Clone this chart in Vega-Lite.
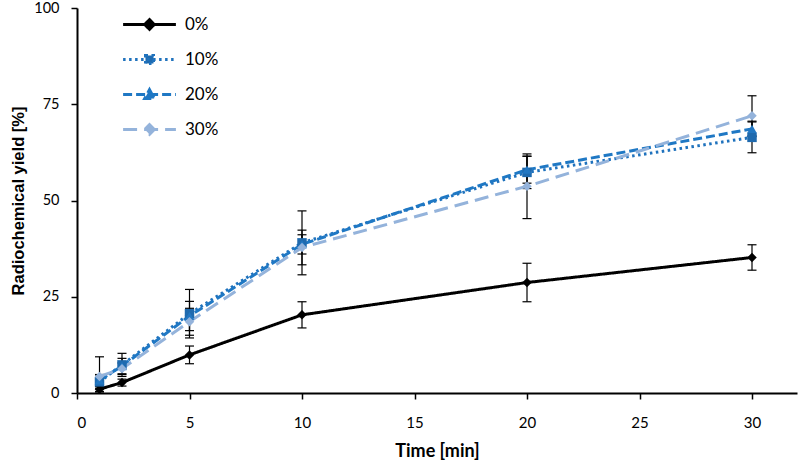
{
  "$schema": "https://vega.github.io/schema/vega-lite/v6.json",
  "width": 720,
  "height": 385,
  "autosize": {"type": "none"},
  "padding": {"left": 77, "top": 8, "right": 3, "bottom": 71},
  "background": "white",
  "config": {
    "view": {"stroke": null},
    "font": "Lato",
    "axis": {
      "grid": false,
      "domainColor": "black",
      "domainWidth": 2,
      "tickColor": "black",
      "tickWidth": 1.5,
      "tickSize": 6,
      "labelFont": "Lato",
      "labelFontSize": 15,
      "labelColor": "black",
      "labelPadding": 12,
      "titleFont": "Lato",
      "titleFontSize": 16,
      "titleFontWeight": "bold",
      "titleColor": "black"
    },
    "legend": {
      "labelFont": "Lato",
      "labelFontSize": 17,
      "labelColor": "black"
    }
  },
  "data": {
    "values": [
      {"series": "0%", "time": 1, "yield": 1.0, "lo": 0.4, "hi": 1.6},
      {"series": "0%", "time": 2, "yield": 2.7, "lo": 1.8, "hi": 3.6},
      {"series": "0%", "time": 5, "yield": 9.9, "lo": 7.6, "hi": 12.2},
      {"series": "0%", "time": 10, "yield": 20.3, "lo": 16.9, "hi": 23.7},
      {"series": "0%", "time": 20, "yield": 28.7, "lo": 23.7, "hi": 33.7},
      {"series": "0%", "time": 30, "yield": 35.2, "lo": 31.9, "hi": 38.5},
      {"series": "10%", "time": 1, "yield": 2.9, "lo": 1.1, "hi": 4.7},
      {"series": "10%", "time": 2, "yield": 7.3, "lo": 4.3, "hi": 10.3},
      {"series": "10%", "time": 5, "yield": 20.6, "lo": 14.3, "hi": 26.9},
      {"series": "10%", "time": 10, "yield": 39.0, "lo": 30.7, "hi": 47.3},
      {"series": "10%", "time": 20, "yield": 57.3, "lo": 53.1, "hi": 61.5},
      {"series": "10%", "time": 30, "yield": 66.4, "lo": 62.4, "hi": 70.4},
      {"series": "20%", "time": 1, "yield": 3.3, "lo": 1.8, "hi": 4.8},
      {"series": "20%", "time": 2, "yield": 7.0, "lo": 5.0, "hi": 9.0},
      {"series": "20%", "time": 5, "yield": 20.0, "lo": 16.2, "hi": 23.8},
      {"series": "20%", "time": 10, "yield": 38.6, "lo": 36.1, "hi": 41.1},
      {"series": "20%", "time": 20, "yield": 58.0, "lo": 54.5, "hi": 61.5},
      {"series": "20%", "time": 30, "yield": 68.6, "lo": 66.6, "hi": 70.6},
      {"series": "30%", "time": 1, "yield": 4.3, "lo": 0.0, "hi": 9.4},
      {"series": "30%", "time": 2, "yield": 6.3, "lo": 4.8, "hi": 7.8},
      {"series": "30%", "time": 5, "yield": 18.5, "lo": 15.0, "hi": 22.0},
      {"series": "30%", "time": 10, "yield": 37.8, "lo": 33.3, "hi": 42.3},
      {"series": "30%", "time": 20, "yield": 53.7, "lo": 45.3, "hi": 62.1},
      {"series": "30%", "time": 30, "yield": 72.0, "lo": 66.8, "hi": 77.2}
    ]
  },
  "encoding": {
    "x": {
      "field": "time",
      "type": "quantitative",
      "scale": {"domain": [0, 32], "nice": false},
      "axis": {"values": [0, 5, 10, 15, 20, 25, 30], "title": "Time [min]", "titlePadding": 12, "labelPadding": 16, "titleFontSize": 18}
    }
  },
  "layer": [
    {
      "mark": {"type": "errorbar", "ticks": {"size": 9, "thickness": 1.2, "color": "black", "opacity": 1}, "color": "black", "opacity": 1, "thickness": 1.2},
      "encoding": {
        "y": {
          "field": "lo",
          "type": "quantitative",
          "scale": {"domain": [0, 100], "nice": false},
          "axis": {"values": [0, 25, 50, 75, 100], "title": "Radiochemical yield [%]", "titlePadding": 7, "labelFontSize": 14.5, "titleFont": "Liberation Sans", "titleFontSize": 16.5}
        },
        "y2": {"field": "hi"}
      }
    },
    {
      "mark": {"type": "line", "strokeWidth": 3},
      "encoding": {
        "y": {"field": "yield", "type": "quantitative"},
        "color": {
          "field": "series", "type": "nominal",
          "scale": {"domain": ["0%", "10%", "20%", "30%"], "range": ["#000000", "#1f72bd", "#1f78c4", "#94b3db"]},
          "legend": null
        },
        "strokeDash": {
          "field": "series", "type": "nominal",
          "scale": {"domain": ["0%", "10%", "20%", "30%"], "range": [[1, 0], [2.5, 3.5], [9, 4], [14, 7]]},
          "legend": null
        }
      }
    },
    {
      "mark": {"type": "point", "filled": true, "opacity": 1, "size": 90},
      "encoding": {
        "y": {"field": "yield", "type": "quantitative"},
        "color": {
          "field": "series", "type": "nominal",
          "scale": {"domain": ["0%", "10%", "20%", "30%"], "range": ["#000000", "#1f6aae", "#2277c2", "#94b3db"]},
          "legend": null
        },
        "shape": {
          "field": "series", "type": "nominal",
          "scale": {"domain": ["0%", "10%", "20%", "30%"], "range": ["diamond", "square", "triangle-up", "diamond"]},
          "legend": null
        }
      }
    },
    {
      "mark": {"type": "point", "filled": true, "opacity": 0, "size": 256, "strokeWidth": 3},
      "encoding": {
        "y": {"field": "yield", "type": "quantitative"},
        "color": {
          "field": "series", "type": "nominal",
          "scale": {"domain": ["0%", "10%", "20%", "30%"], "range": ["#000000", "#1f6aae", "#2277c2", "#94b3db"]},
          "legend": {
            "orient": "none", "legendX": 63, "legendY": 7, "title": null,
            "symbolOpacity": 1, "symbolStrokeWidth": 3, "symbolSize": 256,
            "labelOffset": 26, "rowPadding": 13, "padding": 0,
            "encode": {"symbols": {"update": {"opacity": {"value": 1}}}}
          }
        },
        "stroke": {
          "field": "series", "type": "nominal",
          "scale": {"domain": ["0%", "10%", "20%", "30%"], "range": ["#000000", "#1f72bd", "#1f78c4", "#94b3db"]}
        },
        "strokeDash": {
          "field": "series", "type": "nominal",
          "scale": {"domain": ["0%", "10%", "20%", "30%"], "range": [[1, 0], [2.5, 3.5], [9, 4], [14, 7]]}
        },
        "shape": {
          "field": "series", "type": "nominal",
          "scale": {
            "domain": ["0%", "10%", "20%", "30%"],
            "range": [
              "M-3.3,0H3.3M0,-0.6L0.6,0L0,0.6L-0.6,0Z",
              "M-3.3,0H3.3M-0.5,-0.5H0.5V0.5H-0.5Z",
              "M-3.3,0H3.3M0,-0.6L0.6,0.5H-0.6Z",
              "M-3.3,0H3.3M0,-0.6L0.6,0L0,0.6L-0.6,0Z"
            ]
          }
        }
      }
    }
  ],
  "resolve": {
    "scale": {"color": "independent", "shape": "independent", "strokeDash": "independent", "stroke": "independent"},
    "legend": {"color": "independent", "shape": "independent", "strokeDash": "independent", "stroke": "independent"}
  }
}
